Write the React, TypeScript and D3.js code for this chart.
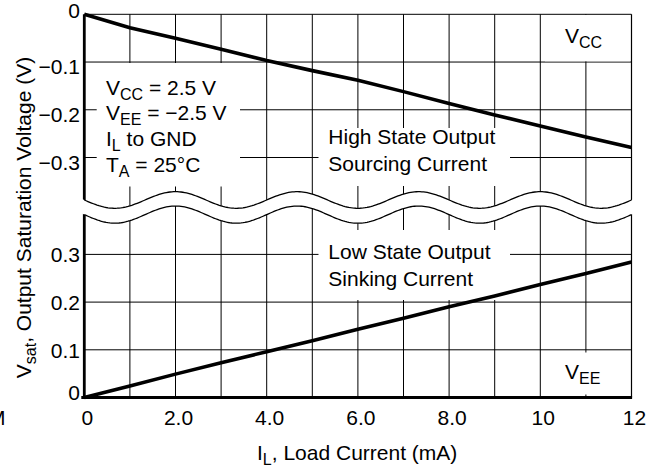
import React from 'react';
import * as d3 from 'd3';

// ---- data ----
const currents = [0, 1, 2, 3, 4, 5, 6, 7, 8, 9, 10, 11, 12];
const highStateVsat = [0, -0.028, -0.05, -0.073, -0.097, -0.118, -0.138, -0.162, -0.187, -0.211, -0.234, -0.257, -0.279];
const lowStateVsat = [0, 0.024, 0.049, 0.073, 0.096, 0.119, 0.143, 0.166, 0.19, 0.213, 0.237, 0.26, 0.284];
const xGridValues = [0, 1, 2, 3, 4, 5, 6, 7, 8, 9, 10, 11, 12];
const xTicks = [0, 2, 4, 6, 8, 10, 12];
const xTickLabels = ['0', '2.0', '4.0', '6.0', '8.0', '10', '12'];
const upperTicks = [0, -0.1, -0.2, -0.3];
const upperTickLabels = ['0', '\u22120.1', '\u22120.2', '\u22120.3'];
const lowerTicks = [0.3, 0.2, 0.1, 0];
const lowerTickLabels = ['0.3', '0.2', '0.1', '0'];

const W = 658;
const H = 468;
const FONT = '"Liberation Sans", Arial, Helvetica, sans-serif';
const FS = 21;
const SUB = 16;

const x = d3.scaleLinear().domain([0, 12]).range([84.3, 631.5]);
const yU = d3.scaleLinear().domain([0, -0.3]).range([14.3, 157.5]);
const yL = d3.scaleLinear().domain([0, 0.3]).range([397.5, 254.4]);

// axis-break wave (decoration)
const breakPeriod = 8 / 3;
const breakPeak = 2;
const upperBreak = (v: number) => yU(-0.389 + 0.0174 * Math.cos((2 * Math.PI * (v - breakPeak)) / breakPeriod));
const lowerBreak = (v: number) => yL(0.3834 + 0.018 * Math.cos((2 * Math.PI * (v - breakPeak)) / breakPeriod));

export default function App() {
  const samples = d3.range(0, 12.0001, 0.04);
  const bandSamples = d3.range(-0.08, 12.0801, 0.04);
  const waveLine = d3.line<number>().x((d) => x(d));
  const upperWavePath = d3.line<number>().x((d) => x(d)).y((d) => upperBreak(d))(samples) || '';
  const lowerWavePath = d3.line<number>().x((d) => x(d)).y((d) => lowerBreak(d))(samples) || '';
  const bandPts: [number, number][] = [
    ...bandSamples.map((d) => [x(d), upperBreak(d)] as [number, number]),
    ...bandSamples.slice().reverse().map((d) => [x(d), lowerBreak(d)] as [number, number]),
  ];
  const bandPath = 'M' + bandPts.map((p) => p.join(',')).join('L') + 'Z';
  void waveLine;

  const highLine = d3.line<number>().x((d, i) => x(currents[i])).y((d) => yU(d))(highStateVsat) || '';
  const lowLine = d3.line<number>().x((d, i) => x(currents[i])).y((d) => yL(d))(lowStateVsat) || '';

  const x0 = x(0);
  const x12 = x(12);

  return (
    <svg width={W} height={H} style={{ position: 'absolute', left: 0, top: 0, background: '#fff' }} fontFamily={FONT}>
      <rect x={0} y={0} width={W} height={H} fill="#fff" />
      {/* vertical grid */}
      {xGridValues.slice(1, 12).map((v) => (
        <line key={'vg' + v} x1={x(v)} x2={x(v)} y1={yU(0)} y2={yL(0)} stroke="#000" strokeWidth={1} />
      ))}
      {/* right border */}
      <line x1={x12} x2={x12} y1={yU(0)} y2={yL(0)} stroke="#000" strokeWidth={1.2} />
      {/* horizontal grid upper */}
      {upperTicks.map((v) => (
        <line key={'hu' + v} x1={x0} x2={x12} y1={yU(v)} y2={yU(v)} stroke="#000" strokeWidth={1} />
      ))}
      {lowerTicks.filter((v) => v !== 0).map((v) => (
        <line key={'hl' + v} x1={x0} x2={x12} y1={yL(v)} y2={yL(v)} stroke="#000" strokeWidth={1} />
      ))}

      {/* white annotation boxes */}
      <rect x={96.7} y={63} width={143.3} height={123.5} fill="#fff" />
      <rect x={318.5} y={128} width={191.5} height={58} fill="#fff" />
      <rect x={318.5} y={230} width={191.5} height={70} fill="#fff" />
      <rect x={545} y={15} width={85} height={46.3} fill="#fff" />
      <rect x={541.5} y={352.5} width={78.5} height={42} fill="#fff" />

      {/* axes */}
      <line x1={x0} x2={x0} y1={yU(0)} y2={yL(0) + 1.5} stroke="#000" strokeWidth={2.8} />
      <line x1={x0 - 3} x2={x12 + 0.6} y1={yL(0)} y2={yL(0)} stroke="#000" strokeWidth={3} />

      {/* break band */}
      <path d={bandPath} fill="#fff" stroke="none" />
      <path d={upperWavePath} fill="none" stroke="#000" strokeWidth={1.3} />
      <path d={lowerWavePath} fill="none" stroke="#000" strokeWidth={1.3} />

      {/* data */}
      <path d={highLine} fill="none" stroke="#000" strokeWidth={3.6} />
      <path d={lowLine} fill="none" stroke="#000" strokeWidth={3.6} />

      {/* y tick labels */}
      {upperTicks.map((v, i) => (
        <text key={'ul' + v} x={80} y={yU(v) + (v === 0 ? 4 : 12)} fontSize={FS} textAnchor="end" fill="#000">
          {upperTickLabels[i]}
        </text>
      ))}
      {lowerTicks.map((v, i) => (
        <text key={'ll' + v} x={80} y={yL(v) + (v === 0 ? 2.5 : 8)} fontSize={FS} textAnchor="end" fill="#000">
          {lowerTickLabels[i]}
        </text>
      ))}
      {/* x tick labels */}
      {xTicks.map((v, i) => (
        <text key={'xl' + v} x={x(v) + 3} y={425} fontSize={FS} textAnchor="middle" fill="#000">
          {xTickLabels[i]}
        </text>
      ))}
      <text x={5.5} y={425} fontSize={FS} textAnchor="end" fill="#000">M</text>

      {/* axis titles */}
      <text x={257} y={460} fontSize={FS} fill="#000">
        <tspan>I</tspan>
        <tspan dy={5} fontSize={SUB}>L</tspan>
        <tspan dy={-5}>, Load Current (mA)</tspan>
      </text>
      <text transform="translate(30.7,217.5) rotate(-90)" fontSize={FS} textAnchor="middle" fill="#000">
        <tspan>V</tspan>
        <tspan dy={5} fontSize={SUB}>sat</tspan>
        <tspan dy={-5}>, Output Saturation Voltage (V)</tspan>
      </text>

      {/* conditions */}
      <text x={106} y={94.5} fontSize={FS} fill="#000">
        <tspan>V</tspan>
        <tspan dy={5} fontSize={SUB}>CC</tspan>
        <tspan dy={-5}> = 2.5 V</tspan>
      </text>
      <text x={106} y={120.3} fontSize={FS} fill="#000">
        <tspan>V</tspan>
        <tspan dy={5} fontSize={SUB}>EE</tspan>
        <tspan dy={-5}> = {'\u2212'}2.5 V</tspan>
      </text>
      <text x={106} y={146} fontSize={FS} fill="#000">
        <tspan>I</tspan>
        <tspan dy={5} fontSize={SUB}>L</tspan>
        <tspan dy={-5}> to GND</tspan>
      </text>
      <text x={106} y={171.7} fontSize={FS} fill="#000">
        <tspan>T</tspan>
        <tspan dy={5} fontSize={SUB}>A</tspan>
        <tspan dy={-5}> = 25{'\u00B0'}C</tspan>
      </text>

      <text x={328.3} y={144} fontSize={FS} fill="#000">High State Output</text>
      <text x={328.3} y={170.7} fontSize={FS} fill="#000">Sourcing Current</text>
      <text x={328.3} y={259.3} fontSize={FS} fill="#000">Low State Output</text>
      <text x={328.3} y={285.5} fontSize={FS} fill="#000">Sinking Current</text>

      <text x={565} y={43.3} fontSize={FS} fill="#000">
        <tspan>V</tspan>
        <tspan dy={5} fontSize={SUB}>CC</tspan>
      </text>
      <text x={565} y={378.5} fontSize={FS} fill="#000">
        <tspan>V</tspan>
        <tspan dy={5} fontSize={SUB}>EE</tspan>
      </text>
    </svg>
  );
}
